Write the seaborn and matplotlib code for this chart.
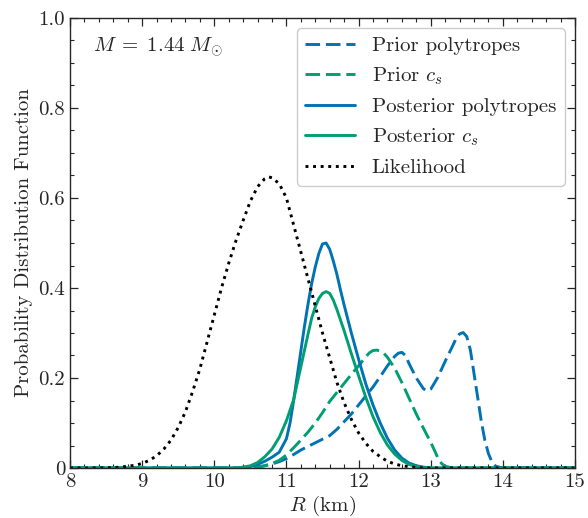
import numpy as np
import matplotlib
matplotlib.use('Agg')
import matplotlib.pyplot as plt
from matplotlib.ticker import MultipleLocator, FixedLocator, FixedFormatter
import seaborn as sns

# values: radius (km) and PDF for each curve
r_prior_poly = [8.0, 10.5, 10.6, 10.7, 10.8, 10.9, 11.0, 11.1, 11.2, 11.3, 11.4,
                11.5, 11.6, 11.7, 11.8, 11.9, 12.0, 12.1, 12.2, 12.3, 12.4,
                12.5, 12.55, 12.6, 12.65, 12.7, 12.8, 12.9, 12.95, 13.0, 13.1,
                13.2, 13.3, 13.35, 13.4, 13.45, 13.5, 13.55, 13.6, 13.65, 13.7,
                13.75, 13.8, 13.85, 13.9, 14.0, 15.0]
prior_poly = [0.0, 0.0, 0.002, 0.005, 0.009, 0.014, 0.021, 0.03, 0.04, 0.048, 0.056,
              0.064, 0.072, 0.086, 0.103, 0.12, 0.14, 0.16, 0.18, 0.203, 0.227,
              0.248, 0.255, 0.257, 0.25, 0.232, 0.2, 0.176, 0.171, 0.175, 0.202,
              0.237, 0.27, 0.287, 0.298, 0.301, 0.292, 0.262, 0.21, 0.158, 0.105,
              0.062, 0.032, 0.013, 0.004, 0.0, 0.0]

r_prior_cs = [8.0, 10.5, 10.6, 10.7, 10.8, 10.9, 11.0, 11.1, 11.2, 11.3, 11.4,
              11.5, 11.6, 11.7, 11.8, 11.9, 12.0, 12.1, 12.15, 12.2, 12.25,
              12.3, 12.35, 12.4, 12.5, 12.6, 12.7, 12.8, 12.9, 13.0, 13.05,
              13.1, 13.15, 13.2, 13.3, 15.0]
prior_cs = [0.0, 0.0, 0.002, 0.005, 0.01, 0.017, 0.029, 0.045, 0.062, 0.08, 0.10,
            0.123, 0.148, 0.168, 0.188, 0.208, 0.227, 0.247, 0.256, 0.261, 0.262,
            0.26, 0.255, 0.246, 0.222, 0.19, 0.155, 0.12, 0.088, 0.057, 0.04,
            0.022, 0.01, 0.004, 0.0, 0.0]

r_post_poly = [8.0, 10.4, 10.5, 10.6, 10.7, 10.8, 10.9, 11.0, 11.05, 11.1, 11.15,
               11.2, 11.25, 11.3, 11.35, 11.4, 11.45, 11.5, 11.55, 11.6, 11.65,
               11.7, 11.75, 11.8, 11.9, 12.0, 12.1, 12.2, 12.3, 12.4, 12.5,
               12.6, 12.7, 12.8, 12.9, 13.0, 15.0]
post_poly = [0.0, 0.0, 0.003, 0.008, 0.015, 0.024, 0.035, 0.065, 0.10, 0.15, 0.205,
             0.26, 0.315, 0.365, 0.41, 0.447, 0.477, 0.498, 0.50, 0.486, 0.46,
             0.43, 0.395, 0.362, 0.30, 0.242, 0.187, 0.14, 0.10, 0.066, 0.04,
             0.022, 0.011, 0.005, 0.002, 0.0, 0.0]

r_post_cs = [8.0, 10.3, 10.4, 10.5, 10.6, 10.7, 10.8, 10.9, 11.0, 11.1, 11.2,
             11.3, 11.35, 11.4, 11.45, 11.5, 11.55, 11.6, 11.65, 11.7, 11.8,
             11.9, 12.0, 12.1, 12.2, 12.3, 12.4, 12.5, 12.6, 12.7, 12.8,
             12.9, 13.0, 15.0]
post_cs = [0.0, 0.0, 0.002, 0.005, 0.012, 0.025, 0.042, 0.068, 0.105, 0.152, 0.225,
           0.298, 0.333, 0.358, 0.377, 0.388, 0.392, 0.388, 0.373, 0.352, 0.305,
           0.254, 0.205, 0.157, 0.114, 0.079, 0.051, 0.031, 0.017, 0.008, 0.003,
           0.001, 0.0, 0.0]

r_like = [8.0, 8.4, 8.5, 8.6, 8.7, 8.8, 8.9, 9.0, 9.1, 9.2, 9.3, 9.4, 9.5, 9.6,
          9.7, 9.8, 9.9, 10.0, 10.1, 10.2, 10.3, 10.4, 10.5, 10.6, 10.7, 10.75,
          10.8, 10.9, 11.0, 11.1, 11.2, 11.3, 11.4, 11.5, 11.6, 11.7, 11.8,
          11.9, 12.0, 12.1, 12.2, 12.3, 12.4, 12.5, 12.6, 12.7, 12.8, 12.9, 15.0]
likelihood = [0.0, 0.0, 0.0005, 0.001, 0.002, 0.004, 0.006, 0.010, 0.017, 0.027,
              0.042, 0.062, 0.09, 0.125, 0.17, 0.22, 0.28, 0.34, 0.40, 0.455,
              0.505, 0.55, 0.593, 0.625, 0.643, 0.647, 0.645, 0.632, 0.60, 0.54,
              0.48, 0.42, 0.36, 0.30, 0.245, 0.19, 0.145, 0.108, 0.078, 0.055,
              0.037, 0.025, 0.015, 0.009, 0.005, 0.003, 0.001, 0.0, 0.0]

labels = ['Prior polytropes', r'Prior $c_s$', 'Posterior polytropes',
          r'Posterior $c_s$', 'Likelihood']
xticks = [8, 9, 10, 11, 12, 13, 14, 15]
xticklabels = ['8', '9', '10', '11', '12', '13', '14', '15']
yticks = [0, 0.2, 0.4, 0.6, 0.8, 1.0]
yticklabels = ['0', '0.2', '0.4', '0.6', '0.8', '1.0']

sns.set_style('ticks')
plt.rcParams['font.family'] = 'serif'
plt.rcParams['font.serif'] = ['cmr10']
plt.rcParams['mathtext.fontset'] = 'cm'
plt.rcParams['axes.formatter.use_mathtext'] = True
plt.rcParams['axes.unicode_minus'] = False

blue = '#0173B2'
green = '#029E73'

fig = plt.figure(figsize=(5.88, 5.18), dpi=100)
ax = fig.add_axes([70/588, 1-468/518, 505/588, 450/518])

series = [(r_prior_poly, prior_poly, blue, (0, (5, 2))),
          (r_prior_cs, prior_cs, green, (0, (5, 2))),
          (r_post_poly, post_poly, blue, '-'),
          (r_post_cs, post_cs, green, '-'),
          (r_like, likelihood, 'k', (0, (1, 1.6)))]
for (r, v, c, ls), lab in zip(series, labels):
    sns.lineplot(x=r, y=v, ax=ax, color=c, linestyle=ls, lw=2.1, label=lab)

ax.set_xlim(8, 15)
ax.set_ylim(0, 1.0)
ax.xaxis.set_major_locator(FixedLocator(xticks))
ax.xaxis.set_major_formatter(FixedFormatter(xticklabels))
ax.yaxis.set_major_locator(FixedLocator(yticks))
ax.yaxis.set_major_formatter(FixedFormatter(yticklabels))
ax.xaxis.set_minor_locator(MultipleLocator(0.2))
ax.yaxis.set_minor_locator(MultipleLocator(0.05))
ax.tick_params(which='both', direction='in', top=True, right=True, labelsize=15)
ax.tick_params(which='major', length=6, width=0.9)
ax.tick_params(which='minor', length=3, width=0.8)
for sp in ax.spines.values():
    sp.set_linewidth(1.0)

ax.set_xlabel(r'$R$ (km)', fontsize=15, labelpad=2)
ax.set_ylabel('Probability Distribution Function', fontsize=15)
ax.text(0.045, 0.935, r'$M\;=\;1.44\ M_{\odot}$', transform=ax.transAxes,
        fontsize=15, va='center')
ax.legend(loc='upper right', fontsize=15, handlelength=2.4, framealpha=1,
          edgecolor='0.8')

fig.savefig('out.png', dpi=100)
